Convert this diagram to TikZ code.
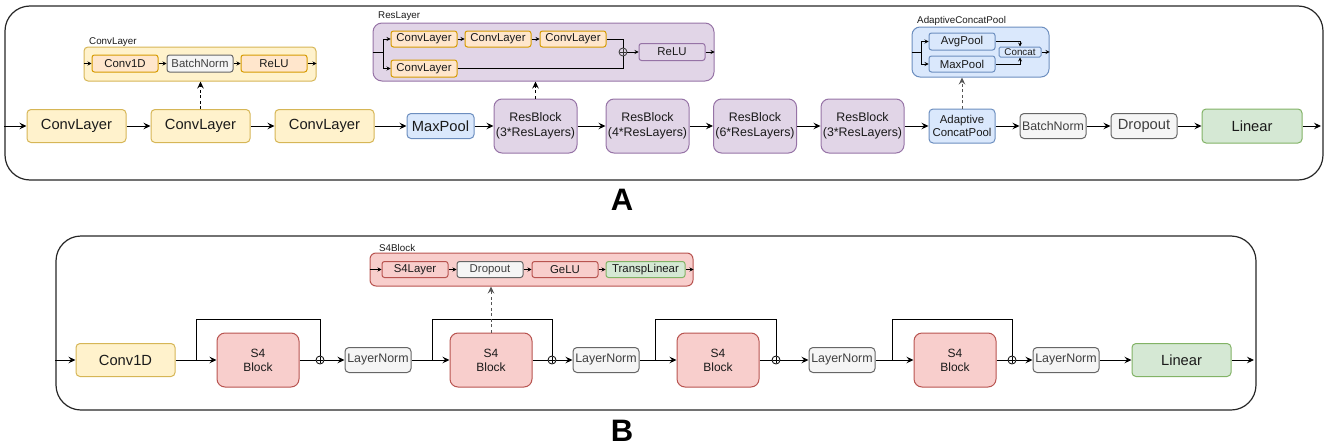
\documentclass[tikz,border=0pt]{standalone}
\usepackage{fontspec}
\setmainfont{Liberation Sans}
\usetikzlibrary{arrows.meta}
\definecolor{txt}{HTML}{1A1A1A}
\definecolor{gtxt}{HTML}{404040}
\definecolor{yfill}{HTML}{FFF2CC}\definecolor{ydraw}{HTML}{D6B656}
\definecolor{ofill}{HTML}{FFE6CC}\definecolor{odraw}{HTML}{D79B00}
\definecolor{gfill}{HTML}{F5F5F5}\definecolor{gdraw}{HTML}{666666}
\definecolor{pfill}{HTML}{E1D5E7}\definecolor{pdraw}{HTML}{9673A6}
\definecolor{bfill}{HTML}{DAE8FC}\definecolor{bdraw}{HTML}{6C8EBF}
\definecolor{grfill}{HTML}{D5E8D4}\definecolor{grdraw}{HTML}{82B366}
\definecolor{rfill}{HTML}{F8CECC}\definecolor{rdraw}{HTML}{B85450}
\definecolor{dgray}{HTML}{555555}
\tikzset{
  nb/.style={draw, line width=1pt, inner sep=0pt, align=center, text=txt, rounded corners=4pt},
  ybox/.style={nb, draw=ydraw, fill=yfill},
  obox/.style={nb, draw=odraw, fill=ofill, rounded corners=2.5pt},
  gbox/.style={nb, draw=gdraw, fill=gfill, text=gtxt},
  pbox/.style={nb, draw=pdraw, fill=pfill},
  bbox/.style={nb, draw=bdraw, fill=bfill},
  grbox/.style={nb, draw=grdraw, fill=grfill},
  rbox/.style={nb, draw=rdraw, fill=rfill},
  sz/.style 2 args={minimum width=#1pt, minimum height=#2pt},
  fsA/.style={font=\fontsize{14.7}{17}\selectfont},
  fsB/.style={font=\fontsize{12.4}{15}\selectfont},
  fsC/.style={font=\fontsize{11.4}{13.5}\selectfont},
  fsS/.style={font=\fontsize{12}{14}\selectfont},
  fsD/.style={font=\fontsize{9.8}{11}\selectfont},
  lab/.style={fsD, anchor=west, inner sep=0pt, text=txt},
  wire/.style={line width=1pt, draw=black},
  arr/.style={wire, -{Stealth[length=7pt,width=6.5pt,inset=2.5pt]}},
  sarr/.style={line width=0.8pt, -{Stealth[length=4pt,width=4pt,inset=1.5pt]}},
  swire/.style={line width=0.8pt},
  dsh/.style={dash pattern=on 3pt off 2.5pt},
  pluss/.style={circle, draw, line width=0.8pt, minimum size=8pt, inner sep=0pt,
    path picture={\draw[line width=0.6pt] ([xshift=-2.6pt]path picture bounding box.center) -- ([xshift=2.6pt]path picture bounding box.center);
                  \draw[line width=0.6pt] ([yshift=-2.6pt]path picture bounding box.center) -- ([yshift=2.6pt]path picture bounding box.center);}},
  panel/.style={draw=black!85, line width=1.2pt, rounded corners=25pt, inner sep=0pt},
  bigl/.style={font=\fontsize{31}{31}\bfseries\selectfont, text=black, inner sep=0pt},
}
\begin{document}
\begin{tikzpicture}[x=1pt,y=-1pt]
\useasboundingbox (0,0) rectangle (1332,447);
% ================= Panel A =================
\node[panel, sz={1318}{174}] (pa) at (664,93) {};
\node[bigl] (la) at (622,200) {A};

\node[ybox, sz={99}{33}, fsA] (cl1) at (76.5,126) {ConvLayer};
\node[ybox, sz={99}{33}, fsA] (cl2) at (200.5,126) {ConvLayer};
\node[ybox, sz={99}{33}, fsA] (cl3) at (324.5,126) {ConvLayer};
\node[bbox, sz={67}{25}, fsA] (mp) at (440.5,126) {MaxPool};
\node[pbox, sz={83}{54}, fsB, rounded corners=8pt] (rb1) at (535.5,126) {ResBlock\\(3*ResLayers)};
\node[pbox, sz={83}{54}, fsB, rounded corners=8pt] (rb2) at (647.5,126) {ResBlock\\(4*ResLayers)};
\node[pbox, sz={83}{54}, fsB, rounded corners=8pt] (rb3) at (755,126) {ResBlock\\(6*ResLayers)};
\node[pbox, sz={83}{54}, fsB, rounded corners=8pt] (rb4) at (862.5,126) {ResBlock\\(3*ResLayers)};
\node[bbox, sz={66}{34}, fsC] (acp) at (962,126) {Adaptive\\ConcatPool};
\node[gbox, sz={66}{25}, fsB] (bnA) at (1053,126) {BatchNorm};
\node[gbox, sz={66}{25}, fsA] (doA) at (1144,126) {Dropout};
\node[grbox, sz={100}{34}, fsA] (linA) at (1252,126) {Linear};

\coordinate (ainA) at (pa.west |- cl1);
\coordinate (aoutA) at (1321,126);
\draw[arr] (ainA) -- (cl1);
\draw[arr] (cl1) -- (cl2);
\draw[arr] (cl2) -- (cl3);
\draw[arr] (cl3) -- (mp);
\draw[arr] (mp) -- (rb1);
\draw[arr] (rb1) -- (rb2);
\draw[arr] (rb2) -- (rb3);
\draw[arr] (rb3) -- (rb4);
\draw[arr] (rb4) -- (acp);
\draw[arr] (acp) -- (bnA);
\draw[arr] (bnA) -- (doA);
\draw[arr] (doA) -- (linA);
\draw[arr] (linA) -- (aoutA);

% ConvLayer detail
\node[ybox, sz={232}{34}] (convc) at (200,64) {};
\node[lab] (convlab) at (89,42) {ConvLayer};
\node[obox, sz={66}{17}, fsC] (cv1) at (125,63.5) {Conv1D};
\node[gbox, sz={66}{17}, fsC, rounded corners=2.5pt] (cbn) at (200,63.5) {BatchNorm};
\node[obox, sz={66}{17}, fsC] (crl) at (274,63.5) {ReLU};
\draw[sarr] (convc.west |- cv1) -- (cv1);
\draw[sarr] (cv1) -- (cbn);
\draw[sarr] (cbn) -- (crl);
\draw[sarr] (crl) -- (convc.east |- crl);
\draw[arr, dsh] (cl2.north) -- (cl2.north |- convc.south);

% ResLayer detail
\node[pbox, sz={341}{58}, rounded corners=9pt] (resc) at (543.5,52) {};
\node[lab] (reslab) at (378,16) {ResLayer};
\node[obox, sz={66}{16}, fsC] (rl1) at (424,39) {ConvLayer};
\node[obox, sz={66}{16}, fsC] (rl2) at (498,39) {ConvLayer};
\node[obox, sz={66}{16}, fsC] (rl3) at (573,39) {ConvLayer};
\node[obox, sz={66}{17}, fsC] (rl4) at (424,68.5) {ConvLayer};
\node[pluss, draw=black!80] (rp) at (623,52) {};
\node[pbox, sz={66}{17}, fsC, rounded corners=2.5pt] (rrelu) at (672,52) {ReLU};
\coordinate (rin) at (383,52);
\draw[swire] (resc.west) -- (rin);
\draw[sarr] (rin) |- (rl1);
\draw[sarr] (rin) |- (rl4);
\draw[sarr] (rl1) -- (rl2);
\draw[sarr] (rl2) -- (rl3);
\draw[swire] (rl3) -| (rp.north);
\draw[swire] (rl4) -| (rp.south);
\draw[sarr] (rp) -- (rrelu);
\draw[sarr] (rrelu) -- (resc.east);
\draw[arr, dsh] (rb1.north) -- (rb1.north |- resc.south);

% AdaptiveConcatPool detail
\node[bbox, sz={137}{50}, rounded corners=8pt] (acpc) at (980.5,52) {};
\node[lab] (acplab) at (917,21) {AdaptiveConcatPool};
\node[bbox, sz={66}{17}, fsC, rounded corners=2.5pt] (avg) at (962,41.5) {AvgPool};
\node[bbox, sz={66}{16}, fsC, rounded corners=2.5pt] (mxp) at (962,64) {MaxPool};
\node[bbox, sz={42}{10}, fsD, rounded corners=1.5pt] (cct) at (1020,52) {Concat};
\coordinate (cin) at (921,52);
\draw[swire] (acpc.west) -- (cin);
\draw[sarr] (cin) |- (avg);
\draw[sarr] (cin) |- (mxp);
\draw[sarr] (avg) -| (cct.north);
\draw[sarr] (mxp) -| (cct.south);
\draw[sarr] (cct) -- (acpc.east);
\draw[arr, dsh, draw=dgray] (acp.north) -- (acp.north |- acpc.south);

% ================= Panel B =================
\node[panel, sz={1200}{174}] (pb) at (656,323) {};
\node[bigl] (lb) at (622,430.5) {B};

\node[ybox, sz={99}{33}, fsA] (c1d) at (125.5,360) {Conv1D};
\node[rbox, sz={82}{54}, fsS, rounded corners=8pt] (s1) at (258,360) {S4\\Block};
\node[pluss, fill=white] (p1) at (320,360) {};
\node[gbox, sz={66}{25}, fsB] (ln1) at (378,360) {LayerNorm};
\node[rbox, sz={82}{54}, fsS, rounded corners=8pt] (s2) at (491,360) {S4\\Block};
\node[pluss, fill=white] (p2) at (552,360) {};
\node[gbox, sz={66}{25}, fsB] (ln2) at (606,360) {LayerNorm};
\node[rbox, sz={82}{54}, fsS, rounded corners=8pt] (s3) at (718,360) {S4\\Block};
\node[pluss, fill=white] (p3) at (776,360) {};
\node[gbox, sz={66}{25}, fsB] (ln3) at (842,360) {LayerNorm};
\node[rbox, sz={82}{54}, fsS, rounded corners=8pt] (s4) at (955,360) {S4\\Block};
\node[pluss, fill=white] (p4) at (1012,360) {};
\node[gbox, sz={66}{25}, fsB] (ln4) at (1066,360) {LayerNorm};
\node[grbox, sz={99}{33}, fsA] (linB) at (1181.5,360) {Linear};

\coordinate (binB) at (pb.west |- c1d);
\coordinate (boutB) at (1254,360);
\draw[arr] (binB) -- (c1d);
\draw[arr] (c1d) -- (s1);
\draw[wire] (s1) -- (p1);
\draw[arr] (p1) -- (ln1);
\draw[arr] (ln1) -- (s2);
\draw[wire] (s2) -- (p2);
\draw[arr] (p2) -- (ln2);
\draw[arr] (ln2) -- (s3);
\draw[wire] (s3) -- (p3);
\draw[arr] (p3) -- (ln3);
\draw[arr] (ln3) -- (s4);
\draw[wire] (s4) -- (p4);
\draw[arr] (p4) -- (ln4);
\draw[arr] (ln4) -- (linB);
\draw[arr] (linB) -- (boutB);

\coordinate (k1) at (196,360);
\coordinate (k2) at (432,360);
\coordinate (k3) at (655,360);
\coordinate (k4) at (892,360);
\draw[wire] (k1) |- (p1.north |- 0,319) -- (p1.north);
\draw[wire] (k2) |- (p2.north |- 0,319) -- (p2.north);
\draw[wire] (k3) |- (p3.north |- 0,319) -- (p3.north);
\draw[wire] (k4) |- (p4.north |- 0,319) -- (p4.north);

% S4Block detail
\node[rbox, sz={323}{33}, rounded corners=6pt] (s4c) at (531.5,269.5) {};
\node[lab] (s4lab) at (379,248) {S4Block};
\node[rbox, sz={66}{16}, fsC, rounded corners=2.5pt] (s4l) at (415,269.5) {S4Layer};
\node[gbox, sz={66}{16}, fsC, rounded corners=2.5pt] (sdo) at (490,269.5) {Dropout};
\node[rbox, sz={66}{16}, fsC, rounded corners=2.5pt] (sgl) at (565,269.5) {GeLU};
\node[grbox, sz={79}{16}, fsC, rounded corners=2.5pt] (stl) at (645.5,269.5) {TranspLinear};
\draw[sarr] (s4c.west) -- (s4l);
\draw[sarr] (s4l) -- (sdo);
\draw[sarr] (sdo) -- (sgl);
\draw[sarr] (sgl) -- (stl);
\draw[sarr] (stl) -- (s4c.east);
\draw[arr, dsh, draw=dgray] (s2.north) -- (s2.north |- s4c.south);
\end{tikzpicture}
\end{document}
